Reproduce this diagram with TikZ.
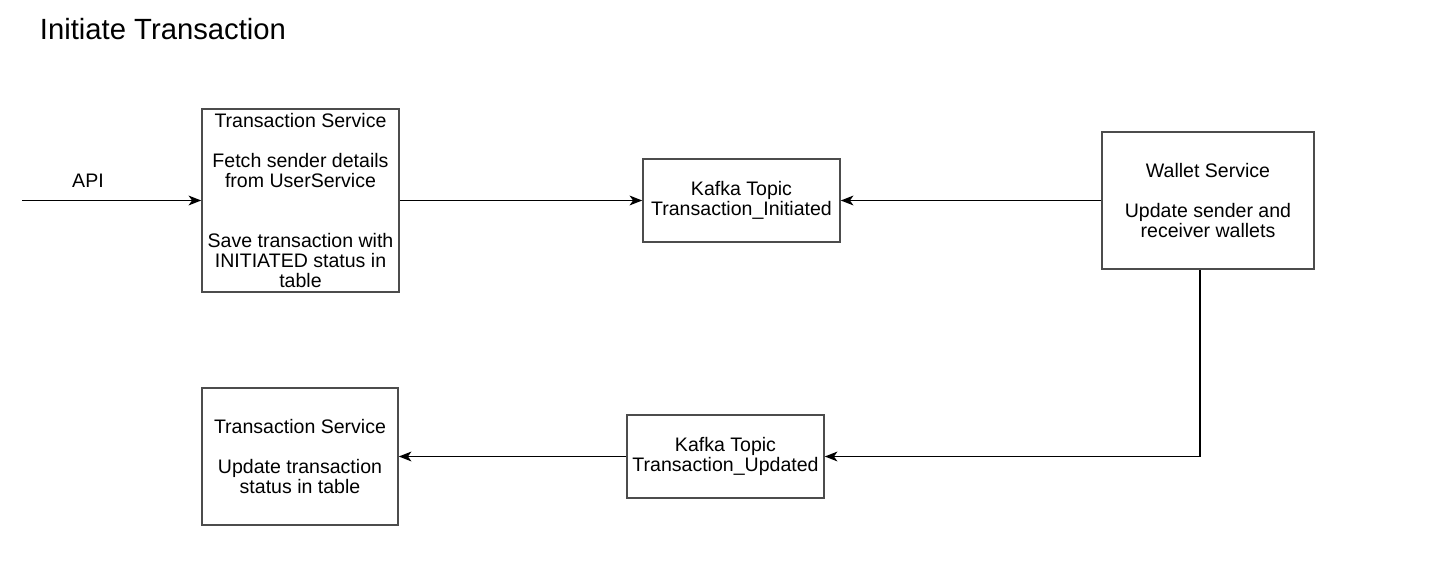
\documentclass[tikz,border=0pt]{standalone}
\usepackage{fontspec}
\setmainfont{Liberation Sans}
\usetikzlibrary{arrows.meta}
\tikzset{
    svcbox/.style={draw=black!70, line width=1.1pt, align=center, inner sep=0pt,
                   font=\fontsize{13.9}{14.2}\selectfont},
    flow/.style={line width=0.9pt, -{Stealth[length=9pt,width=7pt,inset=2.5pt]}},
}
\begin{document}
\begin{tikzpicture}[x=0.025cm,y=-0.025cm]
    \useasboundingbox (0,0) rectangle (1440,563);

    \node[anchor=west, font=\fontsize{20.8}{24}\selectfont] (title) at (35,29) {Initiate Transaction};

    % upper row
    \node[svcbox, minimum width=4.925cm, minimum height=4.575cm] (ts1) at (300.5,200.5)
        {Transaction Service\\[0.5cm] Fetch sender details\\ from UserService\\[1cm]
         Save transaction with\\ INITIATED status in\\ table};
    \node[svcbox, minimum width=4.925cm, minimum height=2.075cm] (kafka1) at (741.5,200.5)
        {Kafka Topic\\ Transaction\_Initiated};
    \node[svcbox, minimum width=5.3cm, minimum height=3.425cm] (wallet) at (1208,200.5)
        {Wallet Service\\[0.5cm] Update sender and\\ receiver wallets};

    % lower row
    \node[svcbox, minimum width=4.9cm, minimum height=3.425cm] (ts2) at (300,456.5)
        {Transaction Service\\[0.5cm] Update transaction\\ status in table};
    \node[svcbox, minimum width=4.925cm, minimum height=2.075cm] (kafka2) at (725.5,456.5)
        {Kafka Topic\\ Transaction\_Updated};

    \coordinate (api) at (22,200.5);
    \coordinate (bend) at (1200,0);
    \node[font=\fontsize{13.9}{14.2}\selectfont] (apilabel) at (88,181) {API};

    \draw[flow] (api) -- (ts1.west);
    \draw[flow] (ts1.east) -- (kafka1.west);
    \draw[flow] (wallet.west) -- (kafka1.east);
    \draw[flow] (wallet.south -| bend) |- (kafka2.east);
    \draw[flow] (kafka2.west) -- (ts2.east);
\end{tikzpicture}
\end{document}
